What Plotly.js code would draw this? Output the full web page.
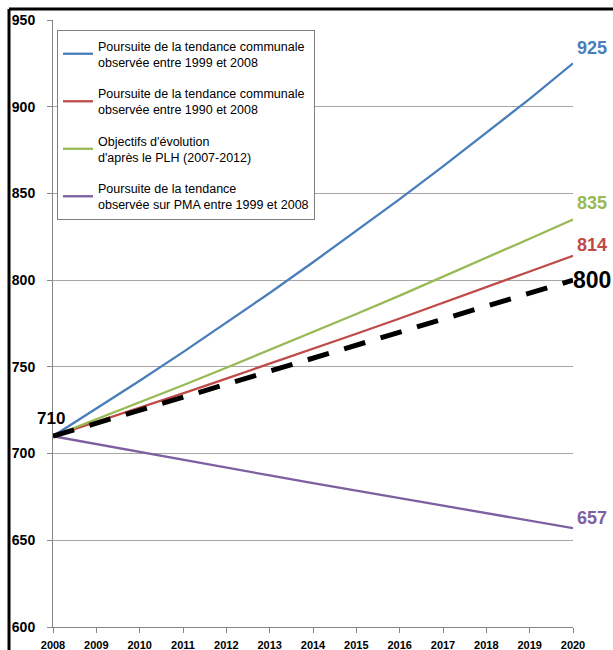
<!DOCTYPE html>
<html>
<head>
<meta charset="utf-8">
<script src="https://cdn.plot.ly/plotly-3.0.1.min.js"></script>
<style>html,body{margin:0;padding:0;background:#fff;}#chart{width:613px;height:650px;}</style>
</head>
<body>
<div id="chart"></div>
<script>
const years = [2008,2009,2010,2011,2012,2013,2014,2015,2016,2017,2018,2019,2020];
const communal9908 = [710,725.8,742.0,758.5,775.4,792.6,810.3,828.3,846.7,865.6,884.8,904.5,925];
const communal9008 = [710,718.1,726.4,734.7,743.2,751.7,760.3,769.1,777.9,786.8,795.9,805.0,814];
const objectifPLH = [710,719.7,729.5,739.4,749.5,759.7,770.0,780.5,791.1,801.9,812.8,823.9,835];
const pma9908 = [710,705.4,700.9,696.4,691.9,687.4,683.0,678.6,674.3,669.9,665.6,661.4,657];
const cible = [710,717.5,725,732.5,740,747.5,755,762.5,770,777.5,785,792.5,800];
const names = [
  "Poursuite de la tendance communale<br>observée entre 1999 et 2008",
  "Poursuite de la tendance communale<br>observée entre 1990 et 2008",
  "Objectifs d'évolution<br>d'après le PLH (2007-2012)",
  "Poursuite de la tendance<br>observée sur PMA entre 1999 et 2008"
];
const colors = ["#4a7ebb","#be4b48","#98b954","#7d60a0"];
const series = [communal9908, communal9008, objectifPLH, pma9908];

const traces = series.map((s,i)=>({
  x: years, y: s, type: 'scatter', mode: 'lines', name: names[i],
  legendgroup: 'g'+i,
  line: {color: colors[i], width: 2.3}
}));
traces.push({x: years, y: cible, type:'scatter', mode:'lines', showlegend:false,
  line:{color:'#000', width:5, dash:'22px,16px'}});

const last = years.length-1;
const annFont = (c,s)=>({family:'Liberation Sans, Arial, sans-serif', size:s, color:c, weight:'bold'});
const annotations = [
  {x: years[last], y: communal9908[last], text: String(communal9908[last]), font: annFont(colors[0],18), yshift: 15, xshift: 2},
  {x: years[last], y: objectifPLH[last], text: String(objectifPLH[last]), font: annFont(colors[2],18), yshift: 16, xshift: 2},
  {x: years[last], y: communal9008[last], text: String(communal9008[last]), font: annFont(colors[1],18), yshift: 11, xshift: 2},
  {x: years[last], y: cible[last], text: String(cible[last]), font: annFont('#000',23), yshift: 0, xshift: -2},
  {x: years[last], y: pma9908[last], text: String(pma9908[last]), font: annFont(colors[3],18), yshift: 10, xshift: 2}
].map(a=>Object.assign({xref:'x', yref:'y', xanchor:'left', yanchor:'middle', showarrow:false}, a));
annotations.push({xref:'x', yref:'y', x: years[0], y: cible[0], text: String(cible[0]),
  font: annFont('#000',17), showarrow:false, xanchor:'center', yanchor:'middle', yshift:18, xshift:-2});

const layout = {
  width: 613, height: 650,
  margin: {l:53, r:40, t:20, b:23},
  paper_bgcolor: '#fff', plot_bgcolor: '#fff',
  font: {family: 'Liberation Sans, Arial, sans-serif', color: '#000'},
  showlegend: true,
  legend: {
    x: 0.0077, y: 0.9835, xanchor: 'left', yanchor: 'top',
    bgcolor: '#fff', bordercolor: '#7f7f7f', borderwidth: 1,
    font: {size: 12.5, color: '#000'},
    traceorder: 'grouped', tracegroupgap: 12,
    entrywidth: 280, entrywidthmode: 'pixels'
  },
  xaxis: {
    range: [2008, 2020], tickvals: years, ticktext: years.map(String),
    showgrid: false, zeroline: false,
    showline: true, linecolor: '#868686', linewidth: 1,
    ticks: 'outside', ticklen: 5, tickcolor: '#868686',
    tickfont: {size: 11, weight: 'bold', color: '#000'},
    ticklabelstandoff: 3
  },
  yaxis: {
    range: [600, 950], dtick: 50, tick0: 600,
    showgrid: true, gridcolor: '#a6a6a6', gridwidth: 1, zeroline: false,
    showline: true, linecolor: '#868686', linewidth: 1,
    ticks: 'outside', ticklen: 5, tickcolor: '#868686',
    tickfont: {size: 14, weight: 'bold', color: '#000'},
    ticklabelstandoff: 9
  },
  annotations: annotations,
  shapes: [
    {type:'line', xref:'paper', yref:'paper', x0:-0.0846, x1:1.1, y0:1.0181, y1:1.0181, line:{color:'#000', width:3}},
    {type:'line', xref:'paper', yref:'paper', x0:-0.0846, x1:-0.0846, y0:1.0181, y1:-0.06, line:{color:'#000', width:3}}
  ]
};
Plotly.newPlot('chart', traces, layout, {displayModeBar: false, staticPlot: true});
</script>
</body>
</html>
